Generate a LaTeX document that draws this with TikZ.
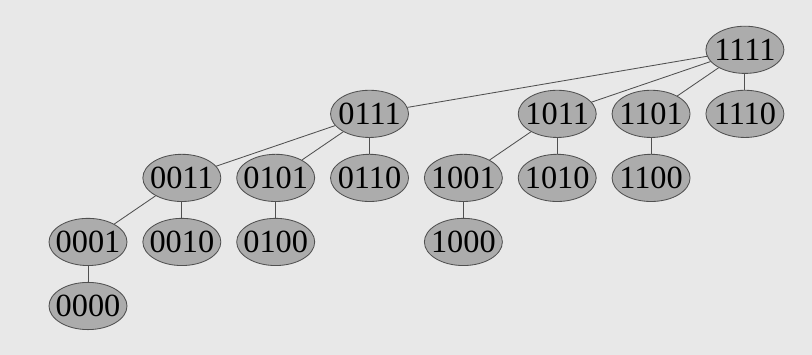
\documentclass[tikz,border=0pt]{standalone}
\usepackage{fontspec}
\setmainfont{Liberation Serif}
\usetikzlibrary{positioning,shapes.geometric}
\definecolor{cbg}{RGB}{232, 232, 232}
\definecolor{cnode}{RGB}{172, 172, 172}
\definecolor{cedge}{RGB}{80, 80, 80}
\tikzset{
	nodes={align=center},
}

\begin{document}
\begin{tikzpicture}[node distance=0.4cm and 0.375cm,%
		bit/.style={draw=cedge, ellipse, line width=0.6pt, fill=cnode, minimum width=1.95cm, minimum height=1.18cm, inner ysep=0pt, inner xsep=-0.15cm, font=\fontsize{23}{27}\selectfont},%
		edge/.style={cedge, line width=0.6pt}]
	\fill[cbg] (0,0) rectangle (20.3,8.875);
	\useasboundingbox (0,0) rectangle (20.3,8.875);

	\node[bit] (n0000) at (2.2,1.225) {0000};
	\node[bit] (n0001) [above=of n0000] {0001};
	\node[bit] (n0010) [right=of n0001] {0010};
	\node[bit] (n0100) [right=of n0010] {0100};

	\node[bit] (n0011) [above=of n0010] {0011};
	\node[bit] (n0101) [above=of n0100] {0101};
	\node[bit] (n0110) [right=of n0101] {0110};
	\node[bit] (n1001) [right=of n0110] {1001};
	\node[bit] (n1010) [right=of n1001] {1010};
	\node[bit] (n1100) [right=of n1010] {1100};
	\node[bit] (n1000) [below=of n1001] {1000};

	\node[bit] (n0111) [above=of n0110] {0111};
	\node[bit] (n1011) [above=of n1010] {1011};
	\node[bit] (n1101) [above=of n1100] {1101};
	\node[bit] (n1110) [right=of n1101] {1110};

	\node[bit] (n1111) [above=of n1110] {1111};

	\draw[edge] (n1111) -- (n0111);
	\draw[edge] (n1111) -- (n1011);
	\draw[edge] (n1111) -- (n1101);
	\draw[edge] (n1111) -- (n1110);
	\draw[edge] (n0111) -- (n0011);
	\draw[edge] (n0111) -- (n0101);
	\draw[edge] (n0111) -- (n0110);
	\draw[edge] (n1011) -- (n1001);
	\draw[edge] (n1011) -- (n1010);
	\draw[edge] (n1101) -- (n1100);
	\draw[edge] (n0011) -- (n0001);
	\draw[edge] (n0011) -- (n0010);
	\draw[edge] (n0101) -- (n0100);
	\draw[edge] (n1001) -- (n1000);
	\draw[edge] (n0001) -- (n0000);
\end{tikzpicture}
\end{document}
